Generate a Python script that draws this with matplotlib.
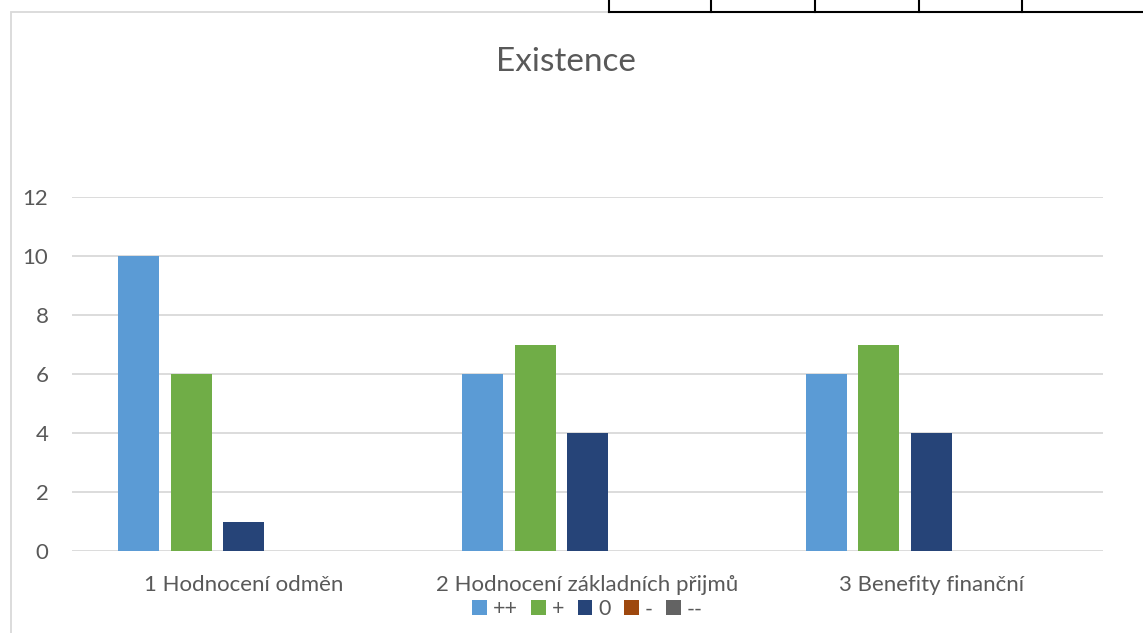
import matplotlib
matplotlib.use("Agg")
import matplotlib.pyplot as plt
import numpy as np
from matplotlib.patches import Rectangle
from matplotlib.lines import Line2D

categories = ["1 Hodnocení odměn", "2 Hodnocení základních přijmů", "3 Benefity finanční"]
series_names = ["++", "+", "0", "-", "--"]
values = {
    "++": [10, 6, 6],
    "+": [6, 7, 7],
    "0": [1, 4, 4],
    "-": [0, 0, 0],
    "--": [0, 0, 0],
}
colors = ["#5B9BD5", "#70AD47", "#264478", "#9E480E", "#636363"]
yticks = [0, 2, 4, 6, 8, 10, 12]
title = "Existence"

plt.rcParams['font.family'] = ['Lato', 'DejaVu Sans']
W, H = 1143, 633
fig = plt.figure(figsize=(W / 100, H / 100), dpi=100)

# chart border (light gray), extends beyond figure right/bottom
fig.add_artist(Rectangle((11 / W, -0.1), 1.2, 1 - 12.5 / H + 0.1, transform=fig.transFigure,
                         fill=False, edgecolor="#D9D9D9", linewidth=1.3))
# table fragment at top right
fig.add_artist(Line2D([609 / W, 1.0], [1 - 11.5 / H, 1 - 11.5 / H], transform=fig.transFigure,
                      color="black", linewidth=1.5))
for xv in [609, 711, 815, 919, 1022]:
    fig.add_artist(Line2D([xv / W, xv / W], [1 - 11.5 / H, 1.0], transform=fig.transFigure,
                          color="black", linewidth=1.5))

ax = fig.add_axes([72 / W, (H - 551) / H, (1103 - 72) / W, (551 - 197) / H])
x = np.arange(len(categories))
step = 0.1526
bw = 0.119
n = len(series_names)
for i, (name, c) in enumerate(zip(series_names, colors)):
    offs = (i - (n - 1) / 2) * step
    ax.bar(x + offs, values[name], width=bw, color=c, label=name, zorder=3)

ax.set_xlim(-0.5, len(categories) - 0.5)
ax.set_ylim(0, 12)
ax.set_yticks(yticks)
ax.set_xticks(x)
ax.set_xticklabels(categories, fontsize=16, color="#595959")
ax.tick_params(axis='y', labelsize=16, labelcolor="#595959", length=0, pad=17)
ax.tick_params(axis='x', length=0, pad=17)
ax.grid(axis='y', color="#D9D9D9", linewidth=1.3, zorder=0)
for s in ax.spines.values():
    s.set_visible(False)

fig.text(566 / W, 1 - 62 / H, title, ha='center', va='center', fontsize=24, color="#595959")

leg = ax.legend(loc='center', bbox_to_anchor=(0.5, -0.165), ncol=5, frameon=False,
                fontsize=15.5, handlelength=0.68, handleheight=0.68, handletextpad=0.3,
                columnspacing=0.6, labelcolor="#595959")

fig.savefig("out.png", dpi=100)
